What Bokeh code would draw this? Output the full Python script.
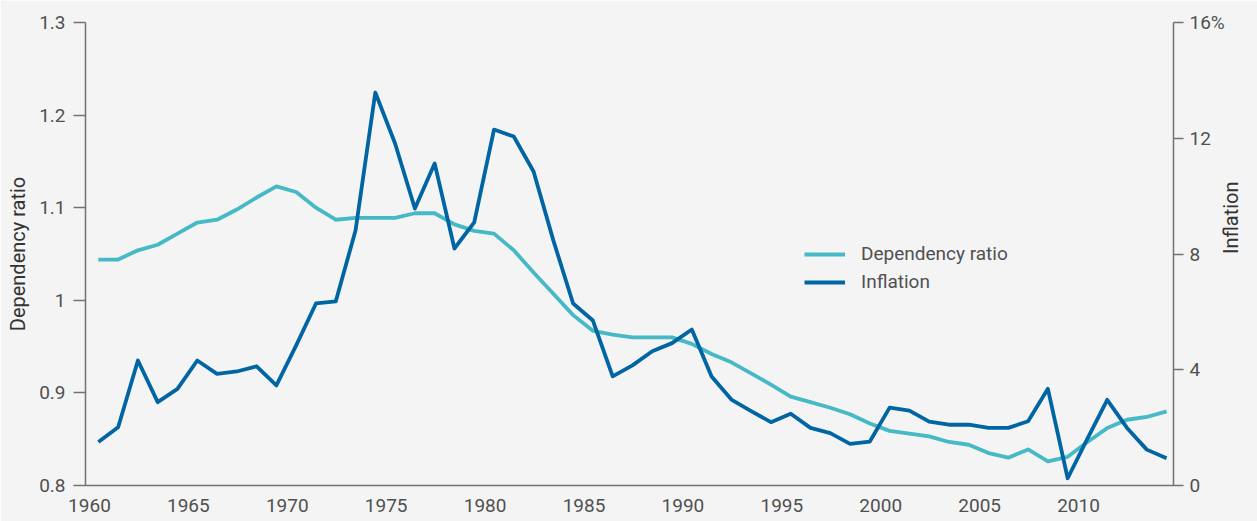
import math
from bokeh.plotting import figure
from bokeh.models import Range1d, LinearAxis, FixedTicker, Legend, LegendItem, ColumnDataSource
from bokeh.embed import file_html
from bokeh.resources import INLINE

years = list(range(1960, 2015))
dependency_ratio = [
    1.044, 1.044, 1.054, 1.060, 1.072, 1.084, 1.087, 1.098, 1.111, 1.123,
    1.117, 1.100, 1.087, 1.089, 1.089, 1.089, 1.094, 1.094, 1.082, 1.075,
    1.072, 1.054, 1.030, 1.007, 0.984, 0.967, 0.963, 0.960, 0.960, 0.960,
    0.953, 0.942, 0.933, 0.921, 0.909, 0.896, 0.890, 0.884, 0.877, 0.867,
    0.859, 0.856, 0.853, 0.847, 0.844, 0.835, 0.830, 0.839, 0.826, 0.831,
    0.847, 0.862, 0.871, 0.874, 0.880,
]
inflation = [
    1.50, 2.01, 4.32, 2.88, 3.34, 4.32, 3.86, 3.94, 4.12, 3.46,
    4.84, 6.29, 6.36, 8.81, 13.58, 11.82, 9.57, 11.13, 8.19, 9.09,
    12.30, 12.06, 10.85, 8.47, 6.29, 5.70, 3.77, 4.15, 4.64, 4.92,
    5.39, 3.77, 2.97, 2.57, 2.19, 2.48, 1.99, 1.81, 1.44, 1.52,
    2.69, 2.59, 2.21, 2.10, 2.10, 1.99, 1.99, 2.22, 3.34, 0.25,
    1.62, 2.96, 1.99, 1.24, 0.94,
]
x_ticks = [1960, 1965, 1970, 1975, 1980, 1985, 1990, 1995, 2000, 2005, 2010]
left_ticks = [0.8, 0.9, 1.0, 1.1, 1.2, 1.3]
left_labels = ["0.8", "0.9", "1", "1.1", "1.2", "1.3"]
right_ticks = [0, 4, 8, 12, 16]
right_labels = ["0", "4", "8", "12", "16%"]

BG = "#f4f4f4"
AXIS = "#727272"
TEXT = "#505050"
FONT = "Roboto"
TEAL = "#45b9c6"
BLUE = "#0065a3"

src = ColumnDataSource(dict(x=[y + 0.45 for y in years], dep=dependency_ratio, inf=inflation))

p = figure(width=1257, height=521, output_backend="svg", toolbar_location=None,
           x_range=Range1d(1959.8, 2014.8), y_range=Range1d(0.8, 1.3),
           background_fill_color=BG, border_fill_color=BG,
           min_border_left=85, min_border_right=74, min_border_top=22, min_border_bottom=36)
p.outline_line_color = None
p.xgrid.visible = False
p.ygrid.visible = False
p.extra_y_ranges = {"infl": Range1d(0, 16)}

r_dep = p.line("x", "dep", source=src, line_color=TEAL, line_width=3.8, line_join="round")
r_inf = p.line("x", "inf", source=src, y_range_name="infl", line_color=BLUE, line_width=3.8, line_join="round")

def style(ax):
    ax.axis_line_color = AXIS
    ax.axis_line_width = 1.5
    ax.major_tick_line_color = AXIS
    ax.major_tick_line_width = 1.5
    ax.minor_tick_line_color = None
    ax.major_tick_in = 0
    ax.major_label_text_font = FONT
    ax.major_label_text_font_size = "19px"
    ax.major_label_text_color = TEXT
    ax.axis_label_text_font = FONT
    ax.axis_label_text_font_size = "20px"
    ax.axis_label_text_font_style = "normal"
    ax.axis_label_text_color = "#333333"

xa = p.xaxis[0]
style(xa)
xa.ticker = FixedTicker(ticks=x_ticks)
xa.major_tick_out = 0
xa.major_label_standoff = 13

ya = p.yaxis[0]
style(ya)
ya.ticker = FixedTicker(ticks=left_ticks)
ya.major_label_overrides = {t: l for t, l in zip(left_ticks, left_labels)}
ya.major_tick_out = 12
ya.major_label_standoff = 8
ya.axis_label = "Dependency ratio"
ya.axis_label_standoff = 6

ra = LinearAxis(y_range_name="infl")
style(ra)
ra.ticker = FixedTicker(ticks=right_ticks)
ra.major_label_overrides = {t: l for t, l in zip(right_ticks, right_labels)}
ra.major_tick_out = 10
ra.major_label_standoff = 6
ra.axis_label = "Inflation"
ra.axis_label_standoff = 3
ra.axis_label_orientation = math.pi / 2
p.add_layout(ra, "right")

legend = Legend(items=[LegendItem(label="Dependency ratio", renderers=[r_dep]),
                       LegendItem(label="Inflation", renderers=[r_inf])],
                location=(719, 192))
legend.background_fill_alpha = 0
legend.border_line_color = None
legend.padding = 0
legend.margin = 0
legend.spacing = 5
legend.glyph_width = 41
legend.glyph_height = 22
legend.label_height = 22
legend.label_standoff = 16
legend.label_text_font = FONT
legend.label_text_font_size = "19px"
legend.label_text_color = TEXT
p.add_layout(legend, "center")

open("out.html", "w").write(file_html(p, INLINE))
